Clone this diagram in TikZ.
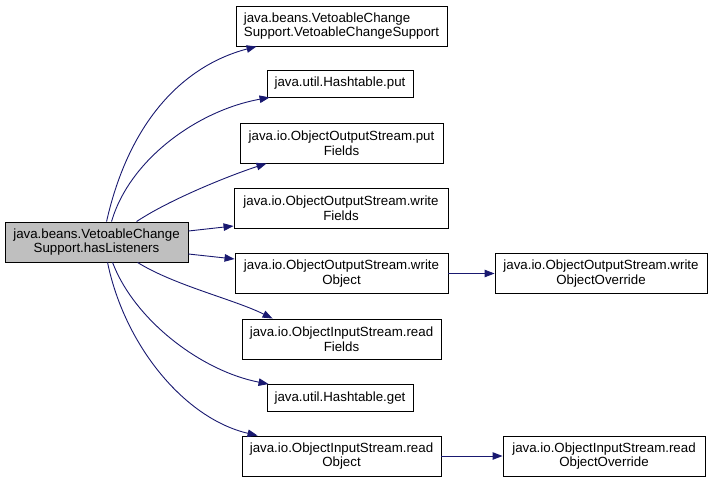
\documentclass[tikz,border=0pt]{standalone}
\usepackage{fontspec}
\setmainfont{Liberation Sans}
\usetikzlibrary{arrows.meta}
\definecolor{edgeblue}{RGB}{25,25,112}
\definecolor{rootgray}{RGB}{191,191,191}
\begin{document}
\begin{tikzpicture}[x=1pt,y=-1pt,
  box/.style={draw=black,line width=0.9pt,fill=white,inner sep=0pt,align=center,
    font=\fontsize{13.3}{14.5}\selectfont},
  edge/.style={draw=edgeblue,line width=0.9pt,-{Triangle[length=10pt,width=7.5pt]}}]
\useasboundingbox (0,0) rectangle (713,483);
\node[box,fill=rootgray,minimum width=183pt,minimum height=40pt] (root) at (96.5,242) {java.beans.VetoableChange\\Support.hasListeners};
\node[box,align=left,minimum width=211pt,minimum height=40pt] (n1) at (341.5,26) {java.beans.VetoableChange\\Support.VetoableChangeSupport};
\node[box,minimum width=146pt,minimum height=27pt] (n2) at (340,83.5) {java.util.Hashtable.put};
\node[box,minimum width=203pt,minimum height=40pt] (n3) at (341.5,143) {java.io.ObjectOutputStream.put\\Fields};
\node[box,minimum width=214pt,minimum height=40pt] (n4) at (341,208) {java.io.ObjectOutputStream.write\\Fields};
\node[box,minimum width=213pt,minimum height=40pt] (n5) at (341.5,273.5) {java.io.ObjectOutputStream.write\\Object};
\node[box,minimum width=212pt,minimum height=40pt] (n6) at (601,273.5) {java.io.ObjectOutputStream.write\\ObjectOverride};
\node[box,minimum width=199pt,minimum height=40pt] (n7) at (341.5,339) {java.io.ObjectInputStream.read\\Fields};
\node[box,minimum width=146pt,minimum height=27pt] (n8) at (340,398) {java.util.Hashtable.get};
\node[box,minimum width=199pt,minimum height=40pt] (n9) at (341.5,456) {java.io.ObjectInputStream.read\\Object};
\node[box,minimum width=202pt,minimum height=40pt] (n10) at (604,456) {java.io.ObjectInputStream.read\\ObjectOverride};

\draw[edge] ([xshift=102pt]root.north west) .. controls +(23,-102) and +(-72,19) .. ([xshift=21pt]n1.south west);
\draw[edge] ([xshift=107pt]root.north west) .. controls +(18,-62) and +(-72,13) .. ([xshift=3pt]n2.south west);
\draw[edge] ([xshift=132pt]root.north west) .. controls +(33,-22) and +(-37,12) .. ([xshift=27pt]n3.south west);
\draw[edge] ([yshift=11pt]root.east) -- ([yshift=-18pt]n4.west);
\draw[edge] ([yshift=-12pt]root.east) -- ([yshift=14.5pt]n5.west);
\draw[edge] ([xshift=133pt]root.south west) .. controls +(37,23) and +(-38,-19) .. ([xshift=31pt]n7.north west);
\draw[edge] ([xshift=108pt]root.south west) .. controls +(22,58) and +(-67,-13) .. ([xshift=2pt]n8.north west);
\draw[edge] ([xshift=103pt]root.south west) .. controls +(17,83) and +(-73,-17) .. ([xshift=16pt]n9.north west);
\draw[edge] (n5) -- (n6);
\draw[edge] (n9) -- (n10);
\end{tikzpicture}
\end{document}
